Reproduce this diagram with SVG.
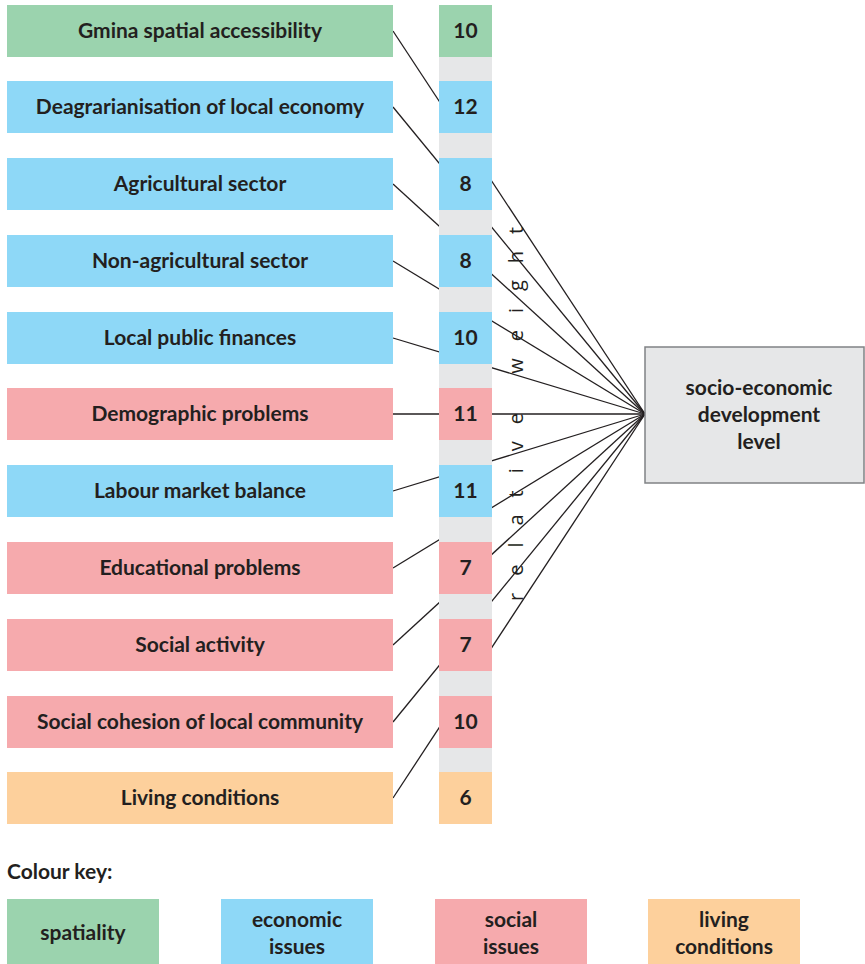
<svg xmlns="http://www.w3.org/2000/svg" width="865" height="964" viewBox="0 0 865 964">
<style>
.t{font-family:Lato,"Open Sans","Liberation Sans",sans-serif;font-weight:bold;font-size:21px;fill:#231f20;text-anchor:middle}
.g{fill:#9bd3ae}.b{fill:#8ed8f7}.p{fill:#f6aaad}.o{fill:#fdd09c}
.c line{stroke:#231f20;stroke-width:1.3}
.rw{font-family:"Open Sans","Liberation Sans",sans-serif;font-size:20px;fill:#231f20;letter-spacing:17px}
</style>
<rect width="865" height="964" fill="#ffffff"/>
<g class="c" id="connectors">
<line x1="393" y1="31" x2="645" y2="414"/>
<line x1="393" y1="107" x2="645" y2="414"/>
<line x1="393" y1="184" x2="645" y2="414"/>
<line x1="393" y1="261" x2="645" y2="414"/>
<line x1="393" y1="338" x2="645" y2="414"/>
<line x1="393" y1="414" x2="645" y2="414"/>
<line x1="393" y1="491" x2="645" y2="414"/>
<line x1="393" y1="568" x2="645" y2="414"/>
<line x1="393" y1="645" x2="645" y2="414"/>
<line x1="393" y1="722" x2="645" y2="414"/>
<line x1="393" y1="798" x2="645" y2="414"/>
</g>
<rect id="weight-column" x="439" y="5" width="53" height="819" fill="#e6e7e8"/>
<g id="n1"><rect class="g" x="7" y="5" width="386" height="52"/><text class="t" x="200" y="38">Gmina spatial accessibility</text><rect class="g" x="439" y="5" width="53" height="52"/><text class="t" x="465.5" y="38">10</text></g>
<g id="n2"><rect class="b" x="7" y="81" width="386" height="52"/><text class="t" x="200" y="114">Deagrarianisation of local economy</text><rect class="b" x="439" y="81" width="53" height="52"/><text class="t" x="465.5" y="114">12</text></g>
<g id="n3"><rect class="b" x="7" y="158" width="386" height="52"/><text class="t" x="200" y="191">Agricultural sector</text><rect class="b" x="439" y="158" width="53" height="52"/><text class="t" x="465.5" y="191">8</text></g>
<g id="n4"><rect class="b" x="7" y="235" width="386" height="52"/><text class="t" x="200" y="268">Non-agricultural sector</text><rect class="b" x="439" y="235" width="53" height="52"/><text class="t" x="465.5" y="268">8</text></g>
<g id="n5"><rect class="b" x="7" y="312" width="386" height="52"/><text class="t" x="200" y="345">Local public finances</text><rect class="b" x="439" y="312" width="53" height="52"/><text class="t" x="465.5" y="345">10</text></g>
<g id="n6"><rect class="p" x="7" y="388" width="386" height="52"/><text class="t" x="200" y="421">Demographic problems</text><rect class="p" x="439" y="388" width="53" height="52"/><text class="t" x="465.5" y="421">11</text></g>
<g id="n7"><rect class="b" x="7" y="465" width="386" height="52"/><text class="t" x="200" y="498">Labour market balance</text><rect class="b" x="439" y="465" width="53" height="52"/><text class="t" x="465.5" y="498">11</text></g>
<g id="n8"><rect class="p" x="7" y="542" width="386" height="52"/><text class="t" x="200" y="575">Educational problems</text><rect class="p" x="439" y="542" width="53" height="52"/><text class="t" x="465.5" y="575">7</text></g>
<g id="n9"><rect class="p" x="7" y="619" width="386" height="52"/><text class="t" x="200" y="652">Social activity</text><rect class="p" x="439" y="619" width="53" height="52"/><text class="t" x="465.5" y="652">7</text></g>
<g id="n10"><rect class="p" x="7" y="696" width="386" height="52"/><text class="t" x="200" y="729">Social cohesion of local community</text><rect class="p" x="439" y="696" width="53" height="52"/><text class="t" x="465.5" y="729">10</text></g>
<g id="n11"><rect class="o" x="7" y="772" width="386" height="52"/><text class="t" x="200" y="805">Living conditions</text><rect class="o" x="439" y="772" width="53" height="52"/><text class="t" x="465.5" y="805">6</text></g>
<text class="rw" transform="translate(523,601) rotate(-90)">relative weight</text>
<g id="target"><rect x="645" y="347" width="219" height="136" fill="#e6e7e8" stroke="#808285" stroke-width="1.5"/>
<text class="t" x="759" y="395">socio-economic</text><text class="t" x="759" y="422">development</text><text class="t" x="759" y="449">level</text></g>
<g id="legend">
<text class="t" x="7" y="879" style="text-anchor:start">Colour key:</text>
<rect class="g" x="7" y="899" width="152" height="65"/><text class="t" x="83" y="940">spatiality</text>
<rect class="b" x="221" y="899" width="152" height="65"/><text class="t" x="297" y="927">economic</text><text class="t" x="297" y="954">issues</text>
<rect class="p" x="435" y="899" width="152" height="65"/><text class="t" x="511" y="927">social</text><text class="t" x="511" y="954">issues</text>
<rect class="o" x="648" y="899" width="152" height="65"/><text class="t" x="724" y="927">living</text><text class="t" x="724" y="954">conditions</text>
</g>
</svg>
